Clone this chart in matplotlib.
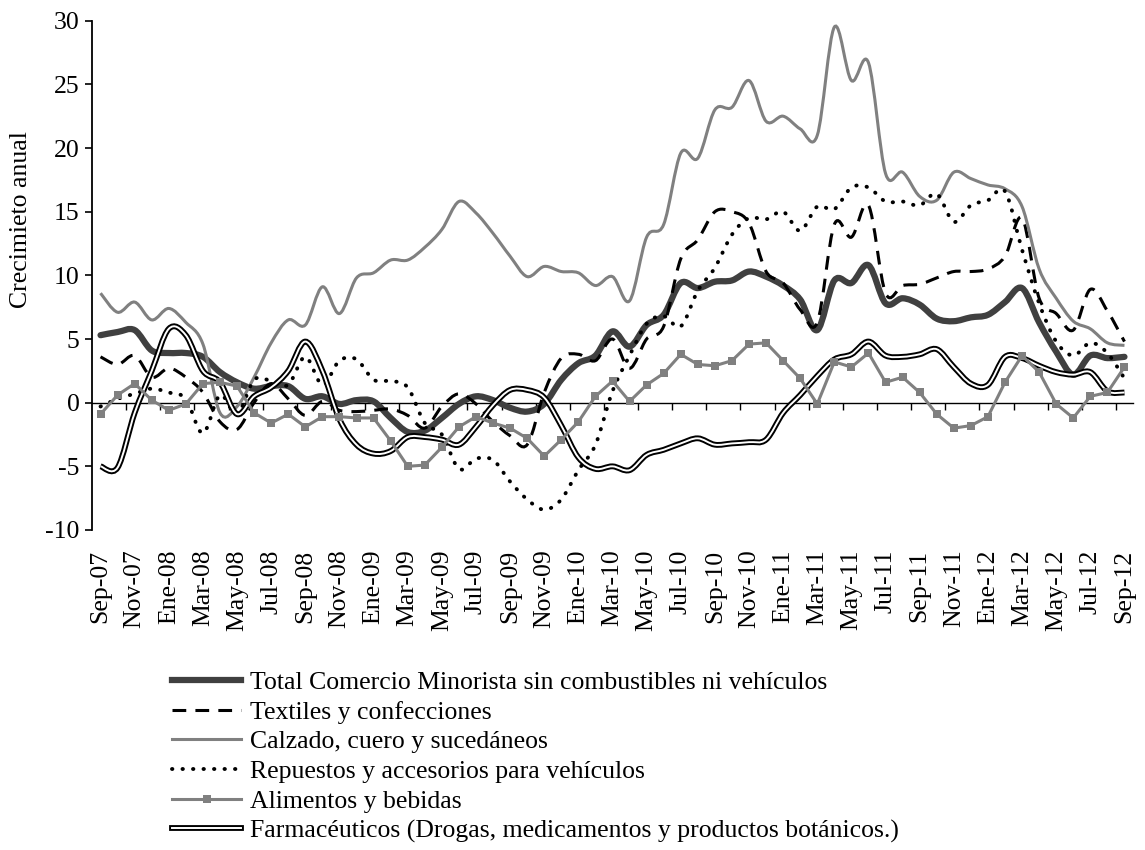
import numpy as np
import matplotlib
matplotlib.use('Agg')
import matplotlib.pyplot as plt
import matplotlib.patheffects as pe
from matplotlib.path import Path
from matplotlib.patches import PathPatch
from matplotlib.lines import Line2D

plt.rcParams['font.family'] = ['Liberation Serif', 'DejaVu Serif']
plt.rcParams['font.size'] = 18.5
plt.rcParams['axes.unicode_minus'] = False

# meses Sep-07 ... Sep-12
meses = ['Ene', 'Feb', 'Mar', 'Abr', 'May', 'Jun', 'Jul', 'Ago', 'Sep', 'Oct', 'Nov', 'Dic']
fechas = [f'{meses[(8 + k) % 12]}-{7 + (8 + k) // 12:02d}' for k in range(61)]

total = [5.3, 5.55, 5.7, 4.1, 3.9, 3.9, 3.6, 2.4, 1.6, 1.1,
         1.3, 1.3, 0.3, 0.5, -0.1, 0.2, 0.1, -1.2, -2.3, -2.2,
         -1.2, -0.1, 0.5, 0.2, -0.4, -0.7, -0.1, 1.8, 3.1, 3.7,
         5.6, 4.4, 6.1, 6.9, 9.4, 9.0, 9.5, 9.6, 10.3, 9.9,
         9.2, 8.1, 5.7, 9.6, 9.4, 10.8, 7.8, 8.2, 7.7, 6.6,
         6.4, 6.7, 6.9, 7.9, 9.0, 6.3, 4.0, 2.2, 3.7, 3.5,
         3.6]

textiles = [3.6, 3.0, 3.7, 2.0, 2.7, 2.0, 0.8, -1.5, -2.1, 0.0,
            1.5, 0.3, -1.0, 0.1, -0.6, -0.7, -0.6, -0.5, -1.0, -2.0,
            -0.3, 0.7, -0.1, -1.5, -2.6, -3.3, 0.8, 3.5, 3.8, 3.3,
            5.0, 2.7, 5.0, 6.0, 11.3, 12.8, 15.0, 15.0, 14.1, 10.3,
            9.4, 7.3, 6.3, 14.0, 13.0, 15.5, 8.6, 9.2, 9.3, 9.8,
            10.3, 10.3, 10.5, 11.5, 14.5, 8.2, 7.0, 5.7, 8.9, 7.2,
            4.8]

calzado = [8.6, 7.1, 7.9, 6.5, 7.4, 6.3, 4.6, -0.8, -0.3, 2.0,
           4.7, 6.5, 6.1, 9.1, 7.0, 9.8, 10.2, 11.2, 11.2, 12.2,
           13.6, 15.8, 14.9, 13.3, 11.5, 9.9, 10.7, 10.3, 10.2, 9.2,
           9.9, 8.0, 13.0, 14.0, 19.6, 19.2, 23.0, 23.2, 25.3, 22.1,
           22.5, 21.5, 21.0, 29.5, 25.3, 26.7, 18.0, 18.1, 16.2, 15.9,
           18.1, 17.6, 17.1, 16.8, 15.4, 10.5, 8.2, 6.4, 5.8, 4.7,
           4.5]

repuestos = [-0.3, 0.3, 0.7, 1.1, 0.8, 0.3, -2.4, 0.6, -0.9, 1.8,
             1.7, 1.4, 3.6, 1.4, 3.3, 3.4, 1.8, 1.7, 1.2, -1.6,
             -2.5, -5.2, -4.4, -4.5, -6.2, -7.6, -8.4, -7.6, -5.3, -3.3,
             0.9, 3.7, 6.2, 6.8, 6.0, 8.8, 10.6, 13.2, 14.5, 14.4,
             15.0, 13.5, 15.4, 15.2, 16.9, 16.9, 15.8, 15.8, 15.5, 16.4,
             14.2, 15.5, 15.9, 16.6, 12.0, 7.8, 4.8, 3.7, 4.7, 3.9,
             1.9]

alimentos = [-0.9, 0.6, 1.5, 0.2, -0.6, -0.1, 1.5, 1.6, 1.3, -0.8,
             -1.6, -0.9, -1.9, -1.1, -1.1, -1.2, -1.2, -3.0, -5.0, -4.9,
             -3.5, -1.9, -1.1, -1.6, -2.0, -2.8, -4.2, -2.9, -1.5, 0.5,
             1.7, 0.1, 1.4, 2.3, 3.8, 3.0, 2.9, 3.3, 4.6, 4.7,
             3.3, 1.9, -0.1, 3.2, 2.8, 3.9, 1.6, 2.0, 0.8, -0.9,
             -2.0, -1.8, -1.1, 1.6, 3.7, 2.4, -0.1, -1.2, 0.5, 0.8,
             2.8]

farmaceuticos = [-5.0, -5.1, -0.8, 2.5, 5.8, 5.3, 2.5, 1.6, -0.9, 0.5,
                 1.2, 2.5, 4.8, 2.5, -1.3, -3.3, -4.0, -3.8, -2.7, -2.7,
                 -2.9, -3.3, -1.9, -0.2, 1.0, 1.0, 0.4, -1.8, -4.3, -5.2,
                 -5.0, -5.3, -4.1, -3.7, -3.2, -2.8, -3.3, -3.2, -3.1, -2.9,
                 -0.8, 0.6, 2.1, 3.4, 3.8, 4.8, 3.7, 3.6, 3.8, 4.2,
                 2.8, 1.5, 1.4, 3.6, 3.5, 2.9, 2.4, 2.2, 2.4, 0.9,
                 0.8]

etiquetas = ['Total Comercio Minorista sin combustibles ni vehículos',
             'Textiles y confecciones',
             'Calzado, cuero y sucedáneos',
             'Repuestos y accesorios para vehículos',
             'Alimentos y bebidas',
             'Farmacéuticos (Drogas, medicamentos y productos botánicos.)']


def suavizar(y):
    # linea suavizada tipo Excel (bezier cubica entre puntos)
    pts = np.column_stack([np.arange(len(y)), y]).astype(float)
    verts = [pts[0]]
    codes = [Path.MOVETO]
    n = len(pts)
    for i in range(n - 1):
        p0 = pts[max(i - 1, 0)]
        p1 = pts[i]
        p2 = pts[i + 1]
        p3 = pts[min(i + 2, n - 1)]
        verts += [p1 + (p2 - p0) / 6, p2 - (p3 - p1) / 6, p2]
        codes += [Path.CURVE4] * 3
    return Path(verts, codes)


fig = plt.figure(figsize=(11.45, 8.5), dpi=100)
ax = fig.add_axes([92 / 1145, 1 - 530 / 850, (1133 - 92) / 1145, (530 - 20.7) / 850])

ax.add_patch(PathPatch(suavizar(total), fill=False, edgecolor='#404040', lw=4.5,
                       capstyle='round', joinstyle='round'))
ax.add_patch(PathPatch(suavizar(textiles), fill=False, edgecolor='black', lw=2.2,
                       linestyle=(0, (4.5, 3)), capstyle='butt'))
ax.add_patch(PathPatch(suavizar(calzado), fill=False, edgecolor='#808080', lw=2.2))
ax.add_patch(PathPatch(suavizar(repuestos), fill=False, edgecolor='black', lw=2.8,
                       linestyle=(0, (0.1, 2.6)), capstyle='round'))
ax.plot(range(len(alimentos)), alimentos, color='#808080', lw=2.2,
        marker='s', markersize=6, markeredgewidth=0)
doble = [pe.Stroke(linewidth=4.2, foreground='black'), pe.Normal()]
ax.add_patch(PathPatch(suavizar(farmaceuticos), fill=False, edgecolor='white', lw=1.4,
                       path_effects=doble))

ax.set_xlim(-0.5, 60.5)
ax.set_ylim(-10, 30)
ax.set_yticks(range(-10, 31, 5))
ax.set_xticks(range(0, 61, 2))
ax.set_xticklabels(fechas[::2], rotation=90)
ax.tick_params(axis='x', length=0, pad=14)
ax.tick_params(axis='y', length=5, width=1.2, direction='out', pad=4)
for s in ['top', 'right', 'bottom']:
    ax.spines[s].set_visible(False)
ax.spines['left'].set_linewidth(1.3)

# eje horizontal en cero con marcas
eje0 = ax.secondary_xaxis(0, transform=ax.transData)
eje0.set_xticks(np.arange(1.5, 60, 2))
eje0.tick_params(axis='x', length=5, width=1, direction='out', labelbottom=False)
eje0.spines['bottom'].set_linewidth(1)

ax.set_ylabel('Crecimieto anual')
ax.yaxis.set_label_coords(-0.058, 0.61)

handles = [Line2D([], [], color='#404040', lw=4.5),
           Line2D([], [], color='black', lw=2.2, linestyle=(0, (4.5, 3))),
           Line2D([], [], color='#808080', lw=2.2),
           Line2D([], [], color='black', lw=2.8, linestyle=(0, (0.1, 2.6)),
                  dash_capstyle='round'),
           Line2D([], [], color='#808080', lw=2.2, marker='s', markersize=6,
                  markeredgewidth=0),
           Line2D([], [], color='white', lw=1.4, path_effects=doble)]
fig.legend(handles, etiquetas, loc='upper left', bbox_to_anchor=(172 / 1145, 1 - 671 / 850),
           frameon=False, borderpad=0, borderaxespad=0, handlelength=2.7,
           handletextpad=0.32, labelspacing=0.26, fontsize=18.5)

fig.savefig('out.png', dpi=100)
